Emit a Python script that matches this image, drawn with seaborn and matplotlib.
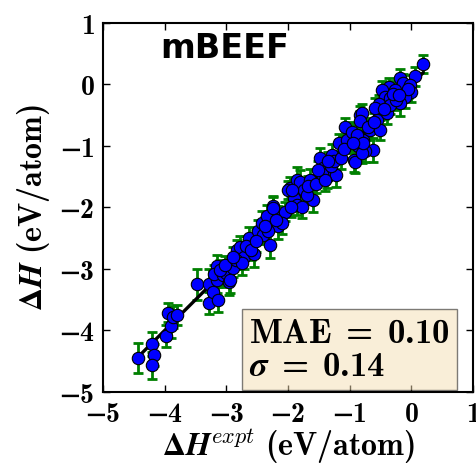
import matplotlib
matplotlib.use("Agg")
import matplotlib.pyplot as plt
from matplotlib.ticker import FuncFormatter, MultipleLocator
import seaborn as sns
import pandas as pd

# Experimental vs. computed formation enthalpies (eV/atom) with uncertainty
h_expt = [
    -4.44, -4.21, -4.17, -4.20, -3.98, -3.90, -3.95, -3.86, -3.80,
    -3.47, -3.28, -3.28, -3.22, -3.14, -3.16, -3.16, -3.20, -3.05, -2.96, -3.00, -2.89, -3.10, -3.02,
    -2.94, -2.83, -2.78, -2.72, -2.56, -2.63, -2.85, -2.75, -2.68, -2.60, -2.90,
    -2.48, -2.43, -2.35, -2.29, -2.25, -2.16, -2.17, -2.05, -2.24, -2.40, -2.32, -2.52, -2.10, -2.38, -2.20,
    -1.97, -1.89, -1.85, -1.91, -1.86, -2.00, -1.81, -1.59, -1.75, -1.64, -1.78, -1.94, -1.70, -1.95, -1.68, -1.55,
    -1.48, -1.29, -1.43, -1.37, -1.22, -1.18, -1.08, -1.05, -1.45, -1.30, -1.25, -1.15, -1.35, -1.10, -1.40, -1.52,
    -0.94, -0.86, -0.78, -0.83, -0.67, -0.62, -0.75, -0.56, -0.97, -0.91, -0.81, -0.81, -0.83, -0.51, -0.89, -0.78,
    -0.70, -0.95, -0.60,
    0.19, 0.06, -0.19, -0.13, -0.03, 0.00, -0.10, -0.18, -0.36, -0.48, -0.43, -0.35, -0.52, -0.59, -0.40, -0.35,
    -0.27, -0.25, -0.05, -0.30, -0.45, -0.20,
]
h_calc = [
    -4.45, -4.22, -4.40, -4.57, -4.09, -3.93, -3.71, -3.78, -3.75,
    -3.25, -3.25, -3.56, -3.37, -3.50, -3.18, -2.96, -3.08, -3.10, -3.21, -3.07, -2.98, -3.02, -2.94,
    -3.18, -2.69, -2.64, -2.80, -2.75, -2.50, -2.85, -2.90, -2.62, -2.70, -2.80,
    -2.39, -2.26, -2.14, -2.61, -1.98, -2.15, -2.31, -2.07, -2.01, -2.45, -2.38, -2.55, -2.25, -2.30, -2.20,
    -1.69, -1.74, -1.55, -1.85, -1.96, -1.72, -1.58, -1.88, -1.72, -1.55, -1.99, -1.72, -1.80, -2.00, -1.65, -1.62,
    -1.20, -1.15, -1.36, -1.50, -1.47, -0.96, -0.69, -0.90, -1.45, -1.32, -1.25, -1.20, -1.25, -1.05, -1.55, -1.40,
    -1.23, -1.01, -0.90, -0.50, -0.74, -1.07, -1.09, -0.58, -0.77, -1.26, -1.12, -0.47, -0.60, -0.74, -0.82, -0.96,
    -0.70, -0.95, -0.62,
    0.33, 0.13, 0.10, 0.02, -0.01, -0.12, -0.20, -0.31, -0.04, -0.09, -0.20, -0.22, -0.32, -0.39, -0.47, -0.33,
    -0.09, -0.25, -0.08, -0.15, -0.40, -0.18,
]
h_err = [
    0.25, 0.20, 0.18, 0.22, 0.18, 0.20, 0.15, 0.18, 0.16,
    0.25, 0.25, 0.18, 0.20, 0.20, 0.22, 0.18, 0.15, 0.20, 0.22, 0.18, 0.15, 0.16, 0.15,
    0.22, 0.16, 0.18, 0.20, 0.22, 0.18, 0.15, 0.20, 0.16, 0.15, 0.15,
    0.18, 0.20, 0.18, 0.22, 0.16, 0.18, 0.20, 0.15, 0.18, 0.15, 0.16, 0.18, 0.18, 0.15, 0.15,
    0.18, 0.16, 0.20, 0.18, 0.16, 0.15, 0.18, 0.20, 0.16, 0.18, 0.18, 0.15, 0.15, 0.16, 0.16, 0.15,
    0.16, 0.18, 0.15, 0.18, 0.20, 0.16, 0.15, 0.16, 0.16, 0.15, 0.16, 0.18, 0.15, 0.15, 0.18, 0.16,
    0.20, 0.18, 0.16, 0.15, 0.16, 0.20, 0.18, 0.15, 0.15, 0.18, 0.16, 0.15, 0.16, 0.16, 0.16, 0.18,
    0.15, 0.16, 0.15,
    0.15, 0.16, 0.15, 0.15, 0.16, 0.16, 0.18, 0.20, 0.15, 0.15, 0.16, 0.15, 0.15, 0.16, 0.18, 0.16,
    0.15, 0.16, 0.15, 0.15, 0.16, 0.15,
]
fit_x = [-4.44, 0.19]
fit_y = [-4.44, 0.19]
mae = 0.10
sigma = 0.14

df = pd.DataFrame({"expt": h_expt, "calc": h_calc, "err": h_err})
fit = pd.DataFrame({"x": fit_x, "y": fit_y})

sns.set_style("ticks")
plt.rcParams.update({
    "mathtext.fontset": "custom",
    "mathtext.rm": "cmr10",
    "mathtext.it": "cmmi10",
    "mathtext.bf": "cmb10",
    "mathtext.bfit": "STIXGeneral:italic:bold",
    "mathtext.fallback": "stix",
    "text.color": "black",
    "axes.labelcolor": "black",
    "axes.edgecolor": "black",
    "xtick.color": "black",
    "ytick.color": "black",
})

fig = plt.figure(figsize=(4.77, 4.66), dpi=100)
ax = fig.add_axes([0.216, 0.159, 0.776, 0.792])

ax.errorbar(df["expt"], df["calc"], yerr=df["err"], fmt="none",
            ecolor="#008000", elinewidth=2.0, capsize=3.5, capthick=2.0, zorder=1)
sns.lineplot(data=fit, x="x", y="y", color="black", linewidth=2.4, ax=ax, zorder=2)
sns.scatterplot(data=df, x="expt", y="calc", color="#0000ff", edgecolor="black",
                linewidth=0.8, s=80, ax=ax, zorder=3)

ax.set_xlim(-5, 1)
ax.set_ylim(-5, 1)
ax.xaxis.set_major_locator(MultipleLocator(1))
ax.yaxis.set_major_locator(MultipleLocator(1))
fmt = FuncFormatter(lambda v, p: r"$\mathbf{%d}$" % round(v))
ax.xaxis.set_major_formatter(fmt)
ax.yaxis.set_major_formatter(fmt)
ax.tick_params(direction="in", top=True, right=True, length=5, width=1,
               labelsize=20, pad=6)
for s in ax.spines.values():
    s.set_linewidth(1.5)

ax.set_xlabel(r"$\mathbf{\Delta}\boldsymbol{H}^{expt}\ \mathbf{(eV/atom)}$", fontsize=23, labelpad=0)
ax.set_ylabel(r"$\mathbf{\Delta}\boldsymbol{H}\ \mathbf{(eV/atom)}$", fontsize=23, labelpad=5)

ax.text(0.33, 0.93, "mBEEF", transform=ax.transAxes, fontsize=24,
        fontweight="bold", family="DejaVu Sans", ha="center", va="center")

ax.text(0.395, 0.025,
        r"$\mathbf{MAE}\;\mathbf{=}\;\mathbf{%.2f}$" "\n" r"$\boldsymbol{\sigma}\;\mathbf{=}\;\mathbf{%.2f}$" % (mae, sigma),
        transform=ax.transAxes, fontsize=25, ha="left", va="bottom", linespacing=0.95,
        bbox=dict(boxstyle="square,pad=0.2", facecolor="wheat", alpha=0.5, edgecolor="black"))

fig.savefig("out.png", dpi=100)
